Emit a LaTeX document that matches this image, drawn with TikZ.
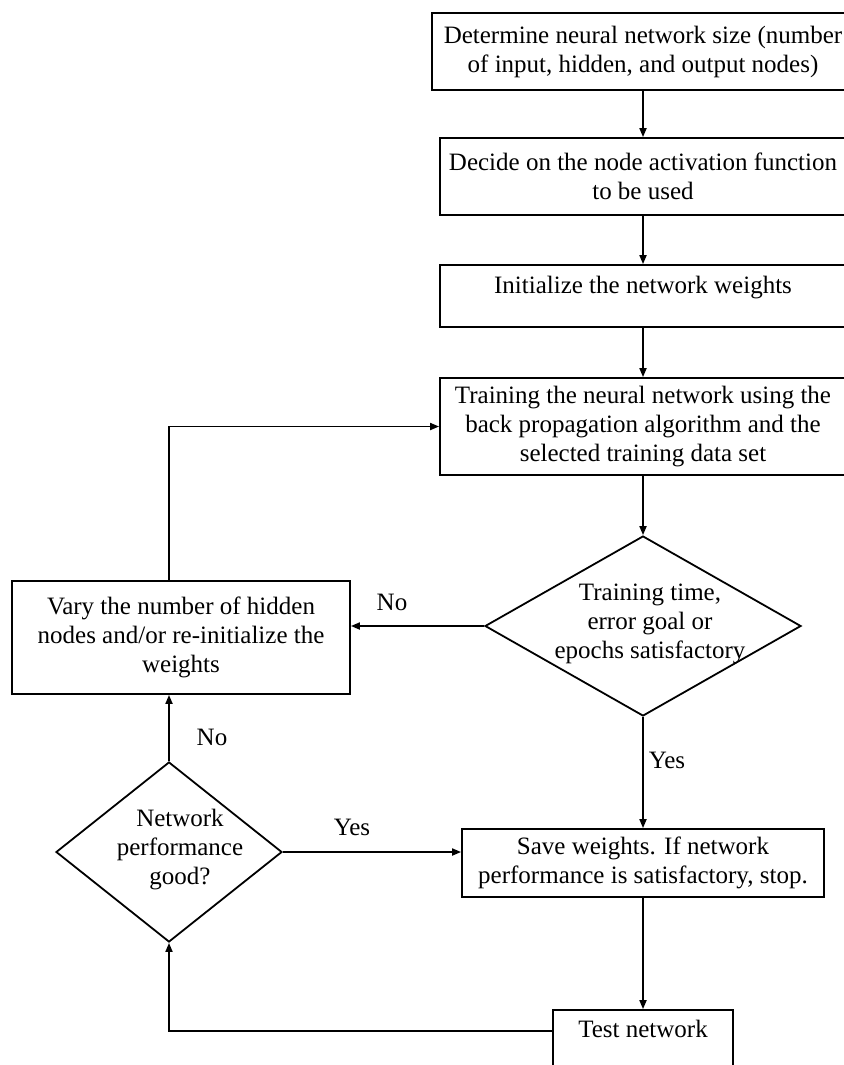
\documentclass[tikz,border=0pt]{standalone}
\usepackage{fontspec}
\setmainfont{Liberation Serif}
\usetikzlibrary{shapes.geometric,arrows.meta}

\tikzset{
  box/.style={draw, line width=0.9pt, align=center, inner sep=0pt},
  decision/.style={draw, diamond, line width=0.9pt, inner sep=0pt},
  arr/.style={line width=0.9pt, -{Triangle[length=4.5pt,width=3.5pt]}},
  plain/.style={line width=0.9pt}
}

\begin{document}
\begin{tikzpicture}[x=0.5pt, y=-0.5pt, font=\fontsize{12.5}{14.5}\selectfont]
\useasboundingbox (0,0) rectangle (843,1065);

\draw (643,51.5) node[box, minimum width=211pt, minimum height=38.5pt] (size)
  {Determine neural network size (number\\of input, hidden, and output nodes)};
\draw (643,176.5) node[box, minimum width=203pt, minimum height=38.5pt] (activation)
  {Decide on the node activation function\\to be used};
\draw (643,296) node[box, minimum width=203pt, minimum height=31pt,
  text height=8.5pt, text depth=11.5pt] (weights) {Initialize the network weights};
\draw (643,426.5) node[box, minimum width=203pt, minimum height=48.5pt] (train)
  {Training the neural network using the\\back propagation algorithm and the\\selected training data set};

\draw (643,626) node[decision, minimum width=158pt, minimum height=90pt] (goal) {};
\draw (650,624) node[align=center] (goaltext) {Training time,\\error goal or\\epochs satisfactory};

\draw (181,637.5) node[box, minimum width=169pt, minimum height=56.5pt] (vary)
  {Vary the number of hidden\\nodes and/or re-initialize the\\weights};

\draw (169,852) node[decision, minimum width=113pt, minimum height=90pt] (perf) {};
\draw (180,850) node[align=center] (perftext) {Network\\performance\\good?};

\draw (643,863) node[box, minimum width=181pt, minimum height=34pt] (save)
  {Save weights. If network\\performance is satisfactory, stop.};
\draw (643,1045) node[box, minimum width=90pt, minimum height=35pt,
  text height=8.5pt, text depth=16.5pt] (test) {Test network};

\draw (392,602) node (nogoal) {No};
\draw (212,737) node (noperf) {No};
\draw (667,760) node (yesgoal) {Yes};
\draw (352,827) node (yesperf) {Yes};

\draw [arr] (size.south) -- (activation.north);
\draw [arr] (activation.south) -- (weights.north);
\draw [arr] (weights.south) -- (train.north);
\draw [arr] (train.south) -- (goal.north);
\draw [arr] (goal.west) -- (vary.east |- goal.west);
\draw [arr] (goal.south) -- (save.north);
\draw [arr] (vary.north -| perf.north) |- (train.west);
\draw [arr] (perf.north) -- (perf.north |- vary.south);
\draw [arr] (perf.east) -- (perf.east -| save.west);
\draw [arr] (save.south) -- (test.north);
\draw [arr] ([yshift=7pt]test.west) -| (perf.south);
\end{tikzpicture}
\end{document}
